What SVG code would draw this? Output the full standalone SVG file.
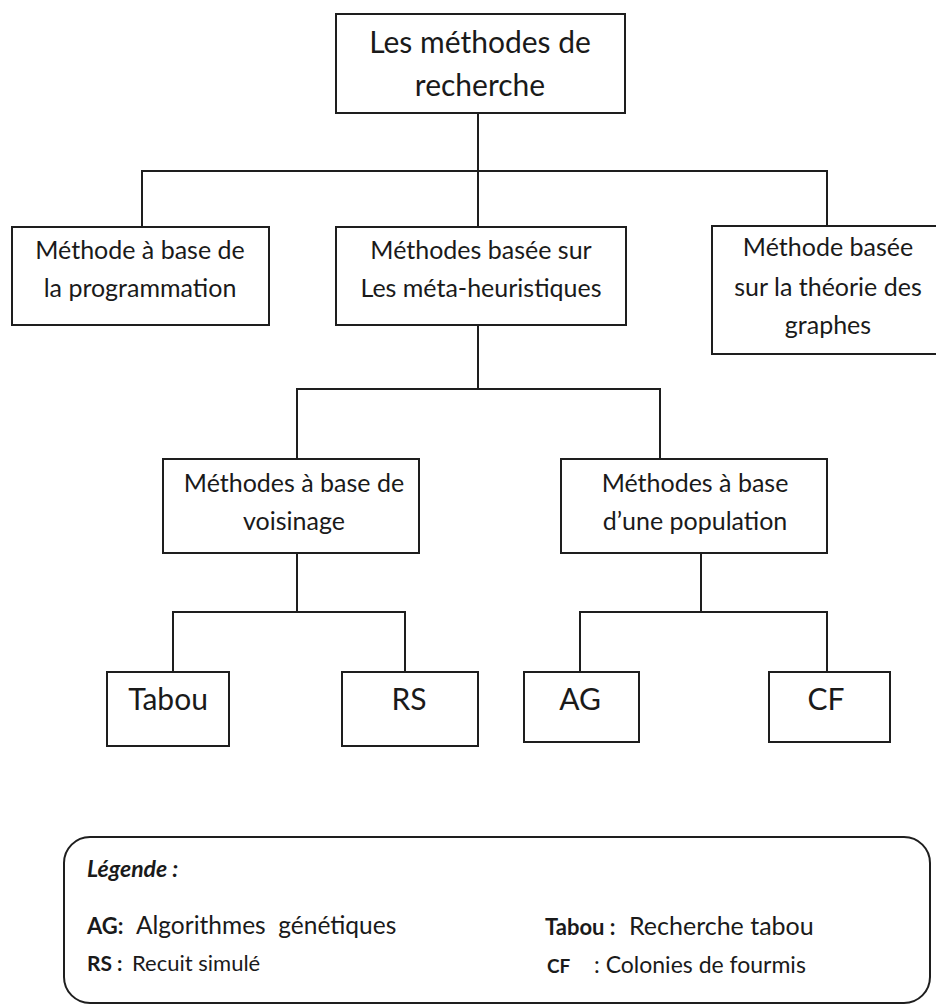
<svg xmlns="http://www.w3.org/2000/svg" width="936" height="1006" viewBox="0 0 936 1006">
  <style>
    .box { fill: #ffffff; stroke: #1e1e1e; stroke-width: 2; }
    .wire { fill: none; stroke: #1e1e1e; stroke-width: 2; }
    text { font-family: Lato, "Open Sans", "Liberation Sans", sans-serif; fill: #1a1a1a; text-anchor: middle; }
    .t1 { font-size: 30px; }
    .t2 { font-size: 25px; }
    .t3 { font-size: 30px; }
    .lg { text-anchor: start; white-space: pre; }
    .b { font-weight: bold; }
  </style>
  <rect width="936" height="1006" fill="#ffffff"/>

  <g id="connectors">
    <path class="wire" d="M478,113 V171"/>
    <path class="wire" d="M142,227 V171 H827 V240"/>
    <path class="wire" d="M478,171 V227"/>
    <path class="wire" d="M478,325 V389"/>
    <path class="wire" d="M297,459 V389 H660 V459"/>
    <path class="wire" d="M297,553 V612"/>
    <path class="wire" d="M173,672 V612 H405 V672"/>
    <path class="wire" d="M701,553 V612"/>
    <path class="wire" d="M580,672 V612 H827 V672"/>
  </g>

  <g id="root">
    <rect class="box" x="336" y="14" width="289" height="99"/>
    <text class="t1" x="480" y="53">Les méthodes de</text>
    <text class="t1" x="480" y="96">recherche</text>
  </g>

  <g id="programmation">
    <rect class="box" x="12" y="227" width="257" height="98"/>
    <text class="t2" x="140" y="259">Méthode à base de</text>
    <text class="t2" x="140" y="297">la programmation</text>
  </g>

  <g id="metaheuristiques">
    <rect class="box" x="336" y="227" width="290" height="98"/>
    <text class="t2" x="481" y="259">Méthodes basée sur</text>
    <text class="t2" x="481" y="297">Les méta-heuristiques</text>
  </g>

  <g id="graphes">
    <rect class="box" x="712" y="226" width="240" height="128"/>
    <text class="t2" x="828" y="256">Méthode basée</text>
    <text class="t2" x="828" y="296">sur la théorie des</text>
    <text class="t2" x="828" y="334">graphes</text>
  </g>

  <g id="voisinage">
    <rect class="box" x="163" y="459" width="256" height="94"/>
    <text class="t2" x="294" y="492">Méthodes à base de</text>
    <text class="t2" x="294" y="530">voisinage</text>
  </g>

  <g id="population">
    <rect class="box" x="561" y="459" width="266" height="94"/>
    <text class="t2" x="695" y="492">Méthodes à base</text>
    <text class="t2" x="695" y="530">d’une population</text>
  </g>

  <g id="tabou">
    <rect class="box" x="107" y="672" width="122" height="74"/>
    <text class="t3" x="168" y="710">Tabou</text>
  </g>

  <g id="rs">
    <rect class="box" x="342" y="672" width="136" height="74"/>
    <text class="t3" x="409" y="710">RS</text>
  </g>

  <g id="ag">
    <rect class="box" x="524" y="672" width="115" height="70"/>
    <text class="t3" x="580" y="710">AG</text>
  </g>

  <g id="cf">
    <rect class="box" x="769" y="672" width="121" height="70"/>
    <text class="t3" x="826" y="710">CF</text>
  </g>

  <g id="legende">
    <rect class="box" x="64" y="837" width="866" height="166" rx="26" ry="26"/>
    <text class="lg b" x="87" y="877" font-size="23" font-style="italic">Légende :</text>
    <text class="lg" x="87" y="934" font-size="24.5"><tspan class="b" font-size="22">AG:</tspan><tspan x="136">Algorithmes  génétiques</tspan></text>
    <text class="lg" x="87" y="971" font-size="22"><tspan class="b" font-size="21">RS :</tspan><tspan x="132">Recuit simulé</tspan></text>
    <text class="lg" x="545" y="935" font-size="25"><tspan class="b" font-size="22">Tabou :</tspan><tspan x="629">Recherche tabou</tspan></text>
    <text class="lg" x="547" y="973" font-size="23"><tspan class="b" font-size="19">CF</tspan><tspan x="594">: Colonies de fourmis</tspan></text>
  </g>
</svg>
